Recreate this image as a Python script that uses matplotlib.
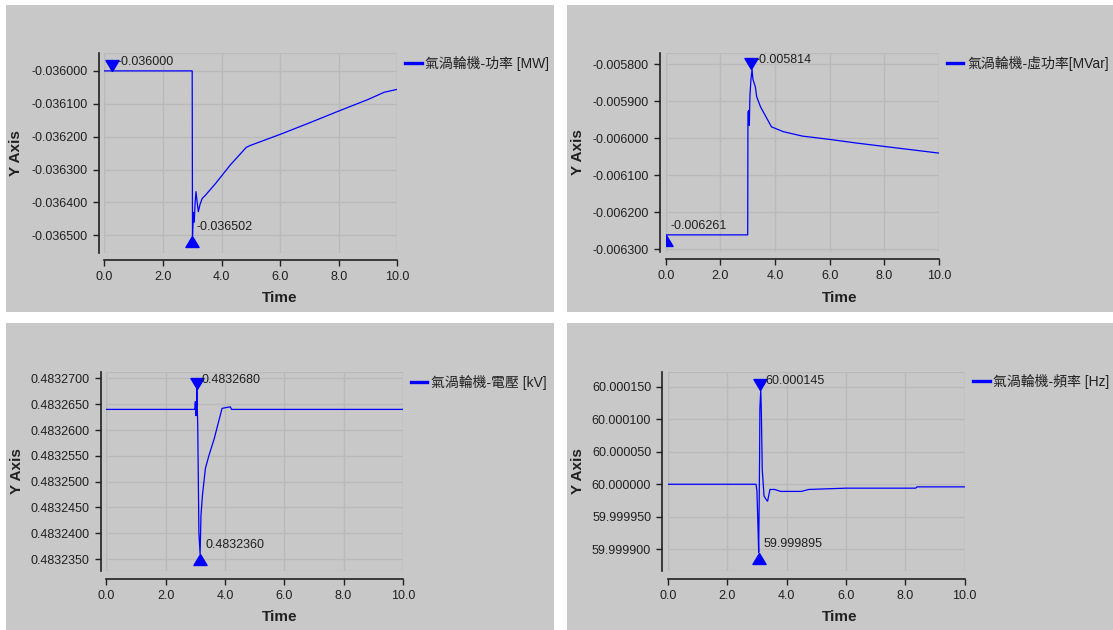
import matplotlib
matplotlib.use("Agg")
import matplotlib.pyplot as plt
from matplotlib.patches import Rectangle
from matplotlib.ticker import FormatStrFormatter

plt.rcParams['font.family'] = ['Liberation Sans', 'Noto Sans CJK TC']

W, H = 1113, 630
BG = '#c8c8c8'
GRID = '#bababa'
BLUE = '#0000ff'
INK = '#202020'

# --- 氣渦輪機-功率 [MW]
p_time = [0.0, 3.00, 3.01, 3.04, 3.07, 3.10, 3.13, 3.17, 3.21, 3.27, 3.34, 3.45,
          3.80, 4.30, 4.85, 5.00, 6.00, 7.00, 8.00, 9.00, 9.55, 10.0]
p_vals = [-0.036000, -0.036000, -0.036502, -0.036430, -0.036460, -0.036400, -0.036367,
          -0.036400, -0.036428, -0.036405, -0.036388, -0.036378, -0.036342, -0.036286,
          -0.036232, -0.036226, -0.036193, -0.036158, -0.036122, -0.036087, -0.036065,
          -0.036056]
p_max = (0.27, -0.036000)
p_min = (2.98, -0.036502)
p_ticks = [-0.0365, -0.0364, -0.0363, -0.0362, -0.0361, -0.0360]

# --- 氣渦輪機-虛功率[MVar]
q_time = [0.0, 3.00, 3.01, 3.04, 3.06, 3.08, 3.12, 3.16, 3.19, 3.28, 3.33, 3.47,
          3.67, 3.87, 4.30, 5.00, 6.00, 7.00, 8.00, 9.00, 10.0]
q_vals = [-0.006261, -0.006261, -0.005928, -0.005925, -0.005965, -0.005888, -0.005840,
          -0.005814, -0.005840, -0.005861, -0.005888, -0.005915, -0.005942, -0.005969,
          -0.005982, -0.005994, -0.006003, -0.006013, -0.006022, -0.006031, -0.006040]
q_max = (3.11, -0.005814)
q_min = (0.0, -0.006261)
q_ticks = [-0.0063, -0.0062, -0.0061, -0.0060, -0.0059, -0.0058]

# --- 氣渦輪機-電壓 [kV]
v_time = [0.0, 2.98, 3.00, 3.01, 3.02, 3.04, 3.05, 3.08, 3.12, 3.16, 3.19, 3.24,
          3.34, 3.46, 3.64, 3.90, 4.18, 4.22, 10.0]
v_vals = [0.4832640, 0.4832640, 0.4832655, 0.4832642, 0.4832628, 0.4832650, 0.4832680,
          0.4832610, 0.4832400, 0.4832360, 0.4832435, 0.4832474, 0.4832526, 0.4832551,
          0.4832584, 0.4832642, 0.4832645, 0.4832640, 0.4832640]
v_max = (3.05, 0.4832680)
v_min = (3.16, 0.4832360)
v_ticks = [0.483235, 0.483240, 0.483245, 0.483250, 0.483255, 0.483260, 0.483265, 0.483270]

# --- 氣渦輪機-頻率 [Hz]
f_time = [0.0, 2.97, 3.00, 3.03, 3.06, 3.09, 3.10, 3.13, 3.15, 3.18, 3.24, 3.32,
          3.36, 3.44, 3.60, 3.80, 4.50, 4.75, 6.00, 8.35, 8.40, 10.0]
f_vals = [60.0, 60.0, 59.999990, 59.999945, 59.999895, 60.000040, 60.000117, 60.000145,
          60.000110, 60.000023, 59.999982, 59.999976, 59.999974, 59.999992, 59.999992,
          59.999989, 59.999989, 59.999992, 59.999994, 59.999994, 59.999996, 59.999996]
f_max = (3.12, 60.000145)
f_min = (3.06, 59.999895)
f_ticks = [59.99990, 59.99995, 60.00000, 60.00005, 60.00010, 60.00015]

x_ticks = [0, 2, 4, 6, 8, 10]

fig = plt.figure(figsize=(W / 100, H / 100), dpi=100)
fig.patch.set_facecolor('white')

DOWN = [(0, 0), (-0.6, 1), (0.6, 1), (0, 0)]
UP = [(0, 0), (-0.6, -1), (0.6, -1), (0, 0)]


def panel(box, area, t, v, ylim, yticks, fmt, pmax, pmin, legend_label,
          legend_xy, ylab_x, time_y):
    x0, y0, x1, y1 = box
    fig.add_artist(Rectangle((x0 / W, 1 - y1 / H), (x1 - x0) / W, (y1 - y0) / H,
                             transform=fig.transFigure, facecolor=BG,
                             edgecolor='none', zorder=-10))
    l, tp, r, b = area
    ax = fig.add_axes([l / W, 1 - b / H, (r - l) / W, (b - tp) / H])
    ax.set_facecolor(BG)
    ax.plot(t, v, color=BLUE, lw=0.9, label=legend_label)
    ax.set_xlim(0, 10)
    ax.set_ylim(*ylim)
    ax.set_xticks(x_ticks)
    ax.set_yticks(yticks)
    ax.xaxis.set_major_formatter(FormatStrFormatter('%.1f'))
    ax.yaxis.set_major_formatter(FormatStrFormatter(fmt))
    ax.grid(True, color=GRID, lw=1.0)
    ax.set_axisbelow(True)
    for s in ('top', 'right'):
        ax.spines[s].set_visible(False)
    ax.spines['left'].set_position(('outward', 4))
    ax.spines['bottom'].set_position(('outward', 5.4))
    for s in ('left', 'bottom'):
        ax.spines[s].set_color(INK)
        ax.spines[s].set_linewidth(1.2)
    ax.add_patch(Rectangle((0, 0), 1, 1, transform=ax.transAxes, fill=False,
                           edgecolor=GRID, lw=1.0, zorder=0.5))
    ax.tick_params(direction='out', length=4, width=1, color=INK,
                   labelsize=9, labelcolor=INK, pad=4)

    # min / max markers
    ax.plot([pmax[0]], [pmax[1]], marker=DOWN, ms=15.8, color=BLUE, ls='none')
    ax.plot([pmin[0]], [pmin[1]], marker=UP, ms=15.8, color=BLUE, ls='none')
    for pt in (pmax, pmin):
        ax.annotate(f"{pt[1]:{fmt[1:]}}", xy=pt, xytext=(5, 9),
                    textcoords='offset pixels', ha='left', va='center',
                    fontsize=9, color=INK)

    ax.set_xlabel('Time', fontsize=11, fontweight='bold', color=INK)
    ax.xaxis.label.set_va('center')
    ax.xaxis.set_label_coords((x0 + x1) / 2 / W, 1 - time_y / H,
                              transform=fig.transFigure)
    ax.set_ylabel('Y Axis', fontsize=11, fontweight='bold', color=INK)
    ax.yaxis.label.set_va('center')
    ax.yaxis.set_label_coords(ylab_x / W, 1 - (tp + b) / 2 / H,
                              transform=fig.transFigure)

    ax.legend(loc='center left', bbox_to_anchor=(legend_xy[0] / W, 1 - legend_xy[1] / H),
              bbox_transform=fig.transFigure, frameon=False, borderpad=0,
              borderaxespad=0, handlelength=1.2, handletextpad=0.25,
              prop={'size': 10}, labelcolor=INK)
    ax.get_legend().get_lines()[0].set_linewidth(2.4)
    return ax


panel((6, 5, 554, 311.7), (104.3, 52.8, 397.3, 252.5), p_time, p_vals,
      (-0.036552, -0.035945), p_ticks, '%.6f', p_max, p_min,
      '氣渦輪機-功率 [MW]', (405, 63.3), 16, 297.7)
panel((567, 5, 1113, 311.7), (665.7, 52.7, 939, 251.7), q_time, q_vals,
      (-0.0063065, -0.0057686), q_ticks, '%.6f', q_max, q_min,
      '氣渦輪機-虛功率[MVar]', (946.8, 63.3), 578.2, 297.7)
panel((6, 323.3, 554, 630), (106.4, 371.7, 402.9, 571), v_time, v_vals,
      (0.4832327, 0.4832713), v_ticks, '%.7f', v_max, v_min,
      '氣渦輪機-電壓 [kV]', (410.7, 382.7), 17, 616.7)
panel((567, 323.3, 1113, 630), (667.9, 371.7, 964.6, 571), f_time, f_vals,
      (59.9998666, 60.0001731), f_ticks, '%.6f', f_max, f_min,
      '氣渦輪機-頻率 [Hz]', (973, 381.7), 578.2, 616.7)

fig.savefig('out.png', dpi=100)
